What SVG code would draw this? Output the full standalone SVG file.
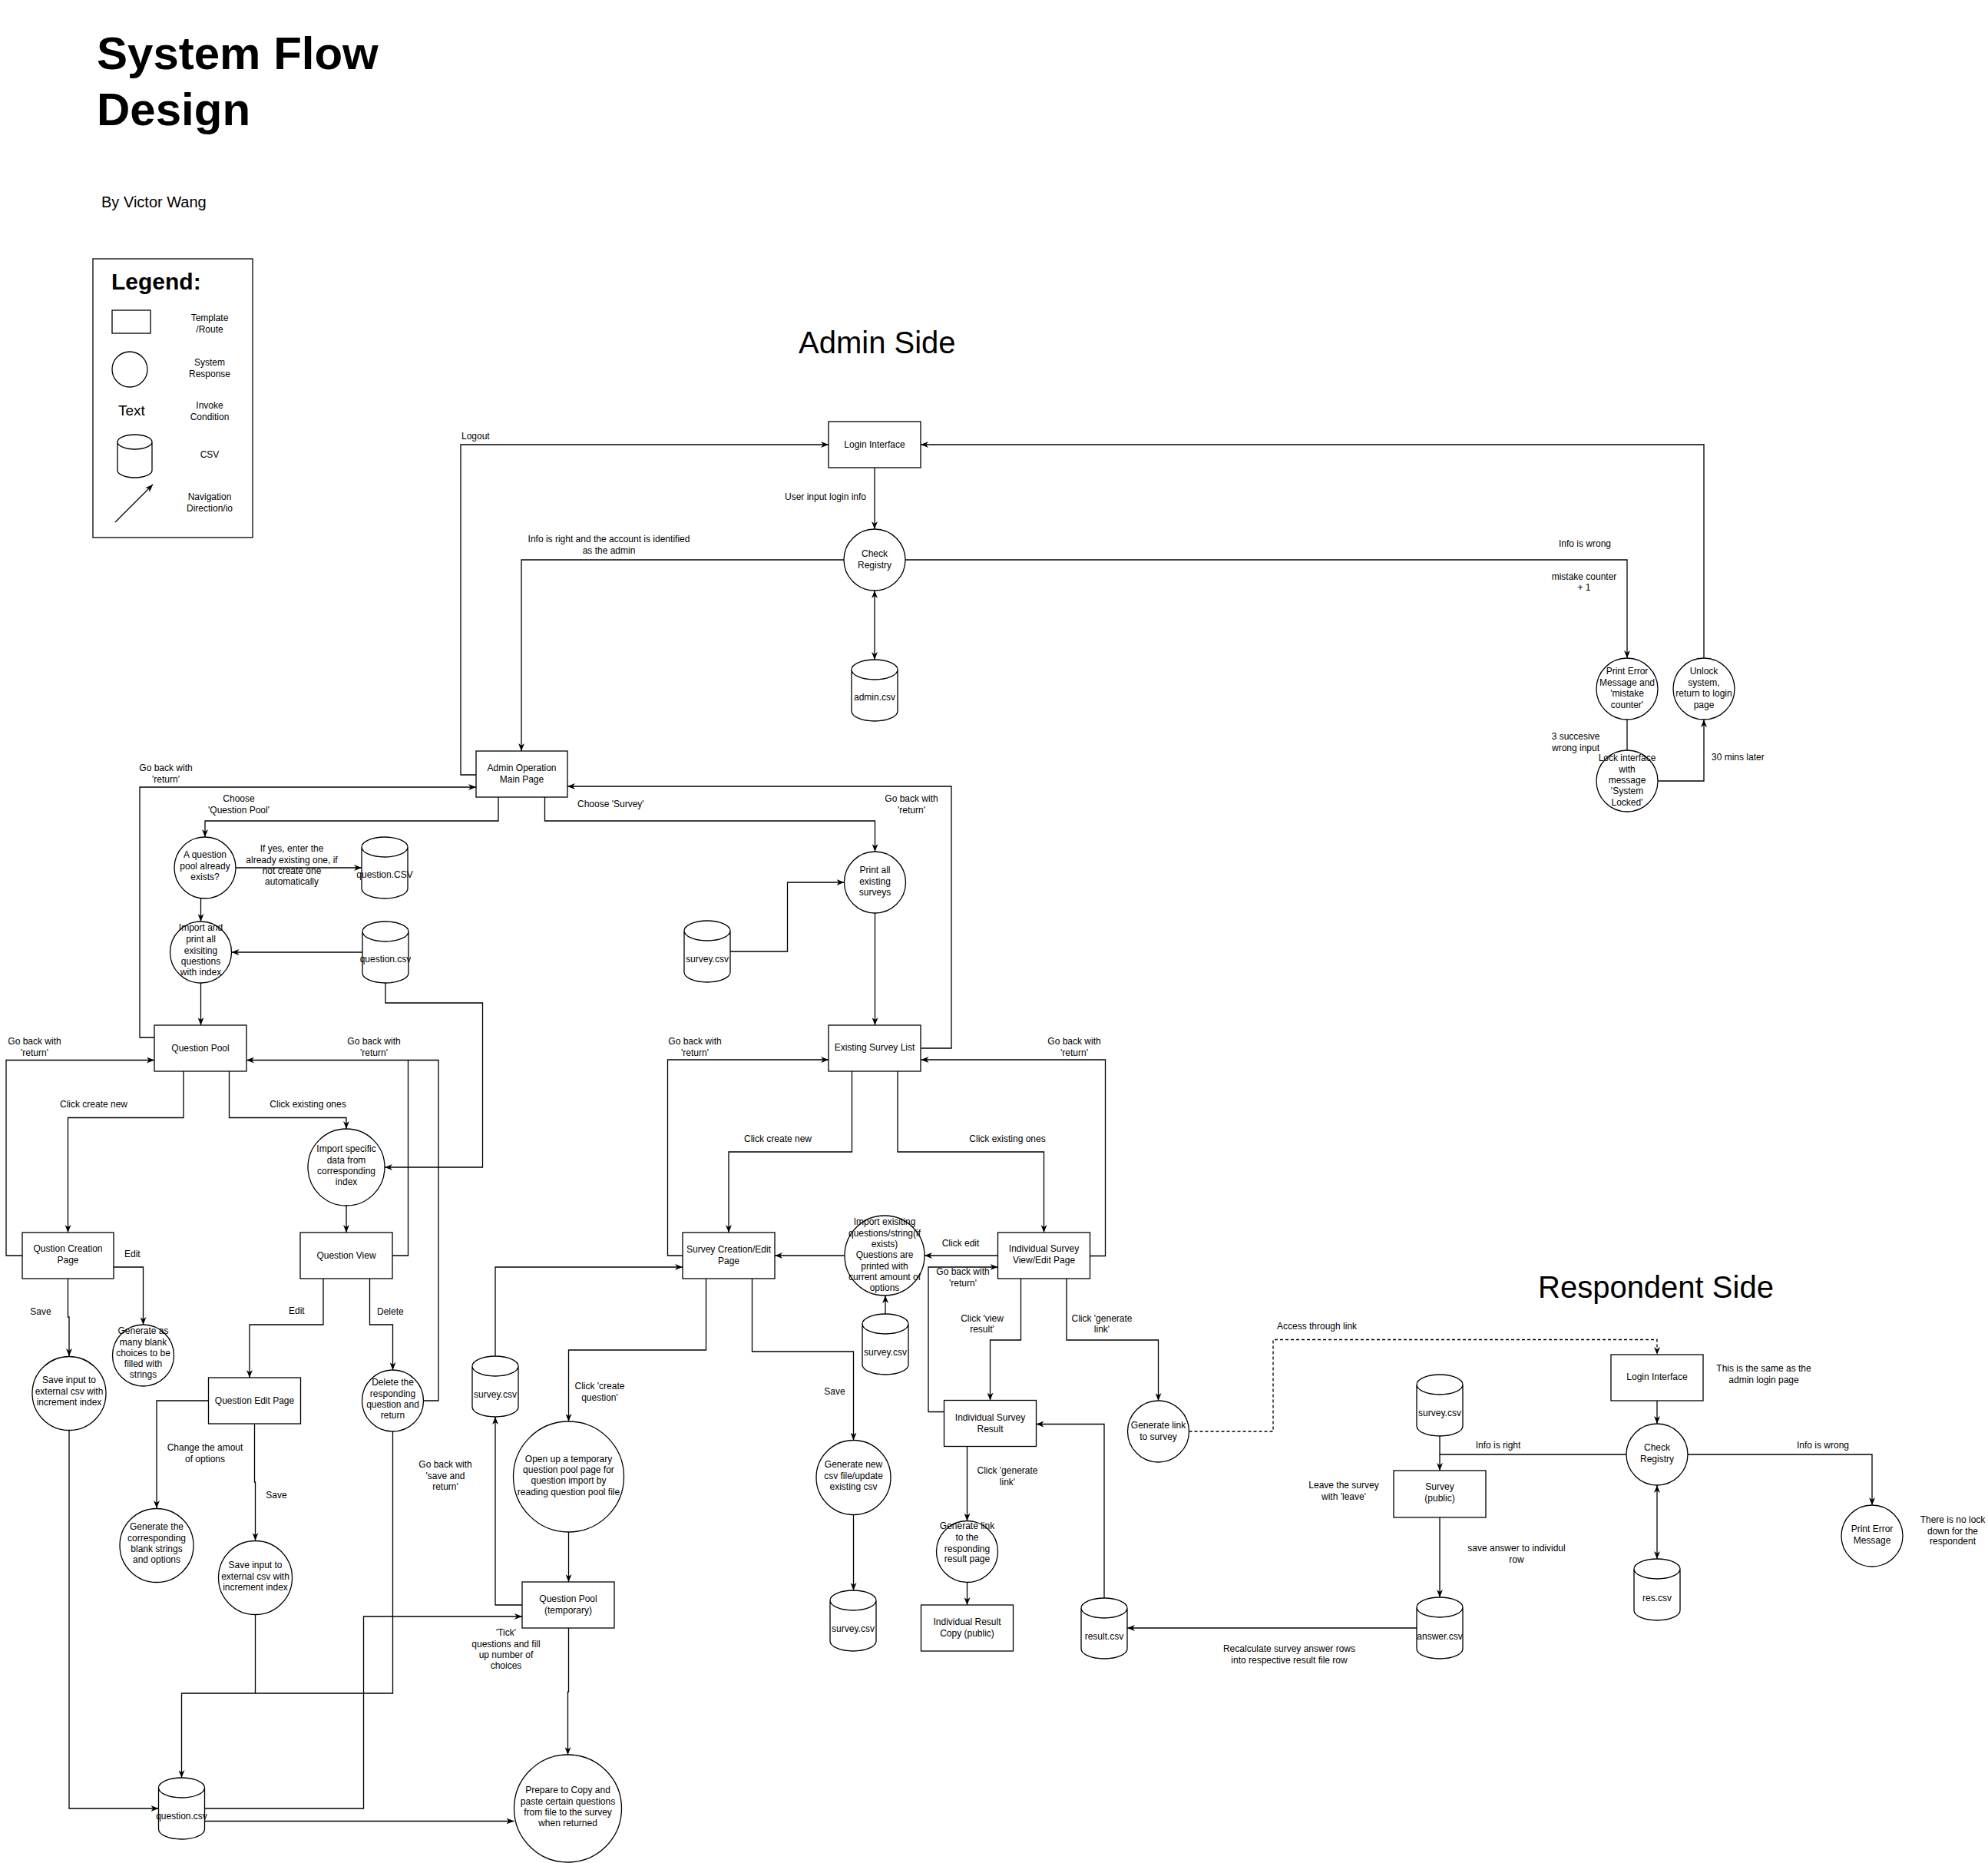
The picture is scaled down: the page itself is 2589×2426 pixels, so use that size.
<svg xmlns="http://www.w3.org/2000/svg" width="2589" height="2426" viewBox="0 0 2589 2426">
<style>
text{font-family:'Liberation Sans',Arial,Helvetica,sans-serif;font-size:12px;fill:#000;text-anchor:middle}
.l{text-anchor:start}
.sh{fill:#fff;stroke:#000;stroke-width:1.3}
.c{fill:none;stroke:#000;stroke-width:1.3}
.a{marker-end:url(#ah)}
.b{marker-end:url(#ah);marker-start:url(#ah)}
.d{stroke-dasharray:4 3}
</style>
<defs>
<marker id="ah" viewBox="0 0 10 8" refX="10" refY="4" markerWidth="10" markerHeight="8" markerUnits="userSpaceOnUse" orient="auto-start-reverse">
<path d="M0,0 L10,4 L0,8 L3,4 Z" fill="#000"/>
</marker>
</defs>
<rect width="2589" height="2426" fill="#fff"/>

<g id="title">
<text class="l" x="126" y="90" font-size="60" font-weight="bold" style="font-size:60px">System Flow</text>
<text class="l" x="126" y="163" style="font-size:60px;font-weight:bold">Design</text>
<text class="l" x="132" y="270" style="font-size:20px">By Victor Wang</text>
<text class="l" x="1040" y="460" style="font-size:40px">Admin Side</text>
<text class="l" x="2003" y="1690" style="font-size:40px">Respondent Side</text>
</g>

<g id="legend">
<rect class="sh" x="121" y="337" width="208" height="363"/>
<text class="l" x="145" y="377" style="font-size:30px;font-weight:bold">Legend:</text>
<rect class="sh" x="146" y="404" width="50" height="30"/>
<circle class="sh" cx="169" cy="481" r="23"/>
<text class="l" x="154" y="541" style="font-size:19px">Text</text>
<path class="sh" d="M153,575.5 A22.5,9.5 0 0 1 198,575.5 A22.5,9.5 0 0 1 153,575.5 Z M153,575.5 V612.5 A22.5,9.5 0 0 0 198,612.5 V575.5"/>
<line class="c a" x1="150" y1="680" x2="199" y2="631"/>
<text x="273" y="418">Template</text><text x="273" y="433">/Route</text>
<text x="273" y="476">System</text><text x="273" y="491">Response</text>
<text x="273" y="532">Invoke</text><text x="273" y="547">Condition</text>
<text x="273" y="596">CSV</text>
<text x="273" y="651">Navigation</text><text x="273" y="666">Direction/io</text>
</g>

<g id="connectors">
<path class="c a" d="M1139,609 V689"/>
<path class="c b" d="M1139,769 V859"/>
<path class="c a" d="M1099,729 H679 V978"/>
<path class="c a" d="M620,1009 H600 V579 H1079"/>
<path class="c a" d="M1179,729 H2119 V857"/>
<path class="c" d="M2119,937 V977"/>
<path class="c a" d="M2159,1017 H2219 V937"/>
<path class="c a" d="M2219,857 V579 H1199"/>
<path class="c a" d="M201,1351 H182 V1025 H620"/>
<path class="c a" d="M649,1038 V1069 H267 V1090"/>
<path class="c a" d="M307,1130 H471"/>
<path class="c a" d="M261.5,1169 V1200"/>
<path class="c a" d="M472,1240 H301.5"/>
<path class="c a" d="M261.5,1280 V1335"/>
<path class="c a" d="M502,1280 V1306 H628.5 V1520 H501"/>
<path class="c a" d="M239,1395 V1455.5 H88.5 V1605"/>
<path class="c a" d="M298.5,1395 V1455.5 H451 V1470"/>
<path class="c a" d="M29,1635 H8 V1380.5 H201"/>
<path class="c a" d="M451,1570 V1605"/>
<path class="c a" d="M551,1824 H571 V1380.5 H321"/>
<path class="c" d="M511,1635 H531.5 V1380.5"/>
<path class="c a" d="M148,1650 H186.5 V1725"/>
<path class="c a" d="M88.5,1665 V1715 H90 V1766"/>
<path class="c a" d="M421,1665 V1725 H325 V1794"/>
<path class="c a" d="M481.5,1665 V1725 H511.5 V1784"/>
<path class="c a" d="M271.5,1824 H204 V1964"/>
<path class="c a" d="M331.5,1854 V1930 H332.5 V2006"/>
<path class="c a" d="M90,1862.5 V2355 H206.5"/>
<path class="c" d="M332.5,2102.5 V2205"/>
<path class="c a" d="M511.5,1864 V2205 H236.5 V2315"/>
<path class="c a" d="M266.5,2355 H473.5 V2105 H680"/>
<path class="c a" d="M266.5,2371.5 H669.5"/>
<path class="c a" d="M740.5,2120 V2203 H739.5 V2285"/>
<path class="c a" d="M1199.5,1365 H1239 V1024 H739"/>
<path class="c a" d="M709.5,1038 V1069 H1139.5 V1109"/>
<path class="c a" d="M951,1239 H1025.5 V1149 H1099.5"/>
<path class="c a" d="M1139.5,1189 V1335"/>
<path class="c a" d="M1109.5,1395 V1500 H949 V1605"/>
<path class="c a" d="M1169,1395 V1500 H1359.5 V1605"/>
<path class="c a" d="M889,1635 H869.5 V1380 H1079"/>
<path class="c a" d="M1419.5,1635.5 H1439.5 V1380 H1199.5"/>
<path class="c a" d="M1100,1635 H1009"/>
<path class="c a" d="M1299.5,1635 H1204"/>
<path class="c a" d="M1153,1711 V1687"/>
<path class="c a" d="M1229.5,1838.5 H1209 V1650 H1299.5"/>
<path class="c a" d="M645,1766 V1650 H889"/>
<path class="c a" d="M680,2090 H645 V1845"/>
<path class="c a" d="M919.5,1665 V1758 H740.5 V1851"/>
<path class="c a" d="M740.5,1995 V2060"/>
<path class="c a" d="M979.5,1665 V1760 H1111.5 V1875.5"/>
<path class="c a" d="M1111.5,1972.5 V2071"/>
<path class="c a" d="M1329.5,1665 V1745 H1289.5 V1823.5"/>
<path class="c a" d="M1389,1665 V1745 H1508.5 V1824"/>
<path class="c a" d="M1438,2081 V1854.5 H1349.5"/>
<path class="c a" d="M1259.5,1883.5 V1980.5"/>
<path class="c a" d="M1259.5,2060.5 V2090"/>
<path class="c a d" d="M1548.5,1864 H1658 V1744.5 H2158 V1764"/>
<path class="c a" d="M1845,2120 H1468"/>
<path class="c a" d="M2158,1824 V1854"/>
<path class="c a" d="M2118,1894 H1875 V1915"/>
<path class="c" d="M1875,1870 V1894"/>
<path class="c a" d="M2198,1894 H2438 V1960"/>
<path class="c b" d="M2158,1934 V2030"/>
<path class="c a" d="M1875,1976 V2080"/>
</g>

<g id="edge-labels">
<text class="l" x="601" y="572">Logout</text>
<text x="1075" y="651">User input login info</text>
<text x="793" y="706">Info is right and the account is identified</text>
<text x="793" y="721">as the admin</text>
<text x="2064" y="712">Info is wrong</text>
<text x="2063" y="755">mistake counter</text>
<text x="2063" y="769">+ 1</text>
<text x="2052" y="963">3 succesive</text>
<text x="2052" y="978">wrong input</text>
<text class="l" x="2229" y="990">30 mins later</text>
<text x="216" y="1004">Go back with</text><text x="216" y="1019">'return'</text>
<text x="311" y="1044">Choose</text><text x="311" y="1059">'Question Pool'</text>
<text x="380" y="1109">If yes, enter the</text>
<text x="380" y="1124">already existing one, if</text>
<text x="380" y="1138">not create one</text>
<text x="380" y="1152">automatically</text>
<text x="45" y="1360">Go back with</text><text x="45" y="1375">'return'</text>
<text x="487" y="1360">Go back with</text><text x="487" y="1375">'return'</text>
<text x="122" y="1442">Click create new</text>
<text x="401" y="1442">Click existing ones</text>
<text class="l" x="162" y="1637">Edit</text>
<text x="53" y="1712">Save</text>
<text class="l" x="376" y="1711">Edit</text>
<text class="l" x="491" y="1712">Delete</text>
<text x="267" y="1889">Change the amout</text><text x="267" y="1904">of options</text>
<text x="360" y="1951">Save</text>
<text x="580" y="1911">Go back with</text><text x="580" y="1926">'save and</text><text x="580" y="1940">return'</text>
<text x="659" y="2130">'Tick'</text>
<text x="659" y="2145">questions and fill</text>
<text x="659" y="2159">up number of</text>
<text x="659" y="2173">choices</text>
<text class="l" x="752" y="1051">Choose 'Survey'</text>
<text x="1187" y="1044">Go back with</text><text x="1187" y="1059">'return'</text>
<text x="905" y="1360">Go back with</text><text x="905" y="1375">'return'</text>
<text x="1399" y="1360">Go back with</text><text x="1399" y="1375">'return'</text>
<text x="1013" y="1487">Click create new</text>
<text x="1312" y="1487">Click existing ones</text>
<text x="1251" y="1623">Click edit</text>
<text x="1254" y="1660">Go back with</text><text x="1254" y="1675">'return'</text>
<text x="781" y="1809">Click 'create</text><text x="781" y="1824">question'</text>
<text x="1087" y="1816">Save</text>
<text x="1279" y="1721">Click 'view</text><text x="1279" y="1735">result'</text>
<text x="1435" y="1721">Click 'generate</text><text x="1435" y="1735">link'</text>
<text x="1312" y="1919">Click 'generate</text><text x="1312" y="1934">link'</text>
<text class="l" x="1663" y="1731">Access through link</text>
<text x="2297" y="1786">This is the same as the</text><text x="2297" y="1801">admin login page</text>
<text x="1951" y="1886">Info is right</text>
<text x="2374" y="1886">Info is wrong</text>
<text x="1750" y="1938">Leave the survey</text><text x="1750" y="1953">with 'leave'</text>
<text x="1975" y="2020">save answer to individul</text><text x="1975" y="2035">row</text>
<text x="1679" y="2151">Recalculate survey answer rows</text>
<text x="1679" y="2166">into respective result file row</text>
<text x="2543" y="1983">There is no lock</text><text x="2543" y="1998">down for the</text><text x="2543" y="2011">respondent</text>
</g>

<g id="login-admin"><rect class="sh" x="1079" y="549" width="120" height="60"/><text x="1139" y="583">Login Interface</text></g>
<g id="check-admin"><circle class="sh" cx="1139" cy="729" r="40"/><text x="1139" y="725">Check</text><text x="1139" y="740">Registry</text></g>
<g id="admin-csv"><path class="sh" d="M1109,872 A30,13 0 0 1 1169,872 A30,13 0 0 1 1109,872 Z M1109,872 V926 A30,13 0 0 0 1169,926 V872"/><text x="1139" y="912">admin.csv</text></g>
<g id="admin-main"><rect class="sh" x="620" y="978" width="119" height="60"/><text x="679.5" y="1004">Admin Operation</text><text x="679.5" y="1019">Main Page</text></g>
<g id="print-error"><circle class="sh" cx="2119" cy="897" r="40"/><text x="2119" y="878">Print Error</text><text x="2119" y="893">Message and</text><text x="2119" y="907">'mistake</text><text x="2119" y="922">counter'</text></g>
<g id="unlock"><circle class="sh" cx="2219" cy="897" r="40"/><text x="2219" y="878">Unlock</text><text x="2219" y="893">system,</text><text x="2219" y="907">return to login</text><text x="2219" y="922">page</text></g>
<g id="lock"><circle class="sh" cx="2119" cy="1017" r="40"/><text x="2119" y="991">Lock interface</text><text x="2119" y="1006">with</text><text x="2119" y="1020">message</text><text x="2119" y="1034">'System</text><text x="2119" y="1049">Locked'</text></g>

<g id="qpool-exists"><circle class="sh" cx="267" cy="1130" r="40"/><text x="267" y="1117">A question</text><text x="267" y="1132">pool already</text><text x="267" y="1146">exists?</text></g>
<g id="question-csv-1"><path class="sh" d="M471,1103 A30,13 0 0 1 531,1103 A30,13 0 0 1 471,1103 Z M471,1103 V1157 A30,13 0 0 0 531,1157 V1103"/><text x="501" y="1143">question.CSV</text></g>
<g id="import-all"><circle class="sh" cx="261.5" cy="1240" r="40"/><text x="261.5" y="1212">Import and</text><text x="261.5" y="1227">print all</text><text x="261.5" y="1242">exisiting</text><text x="261.5" y="1256">questions</text><text x="261.5" y="1270">with index</text></g>
<g id="question-csv-2"><path class="sh" d="M472,1213 A30,13 0 0 1 532,1213 A30,13 0 0 1 472,1213 Z M472,1213 V1267 A30,13 0 0 0 532,1267 V1213"/><text x="502" y="1253">question.csv</text></g>
<g id="question-pool"><rect class="sh" x="201" y="1335" width="120" height="60"/><text x="261" y="1369">Question Pool</text></g>
<g id="import-specific"><circle class="sh" cx="451" cy="1520" r="50"/><text x="451" y="1500">Import specific</text><text x="451" y="1515">data from</text><text x="451" y="1529">corresponding</text><text x="451" y="1543">index</text></g>
<g id="question-creation"><rect class="sh" x="29" y="1605" width="119" height="60"/><text x="88.5" y="1630">Qustion Creation</text><text x="88.5" y="1645">Page</text></g>
<g id="question-view"><rect class="sh" x="391" y="1605" width="120" height="60"/><text x="451" y="1639">Question View</text></g>
<g id="gen-blank"><circle class="sh" cx="186.5" cy="1765" r="40"/><text x="186.5" y="1737">Generate as</text><text x="186.5" y="1752">many blank</text><text x="186.5" y="1766">choices to be</text><text x="186.5" y="1780">filled with</text><text x="186.5" y="1794">strings</text></g>
<g id="save-input-1"><circle class="sh" cx="90" cy="1814.5" r="48"/><text x="90" y="1801">Save input to</text><text x="90" y="1816">external csv with</text><text x="90" y="1830">increment index</text></g>
<g id="question-edit"><rect class="sh" x="271.5" y="1794" width="120" height="60"/><text x="331.5" y="1828">Question Edit Page</text></g>
<g id="delete-question"><circle class="sh" cx="511.5" cy="1824" r="40"/><text x="511.5" y="1804">Delete the</text><text x="511.5" y="1819">responding</text><text x="511.5" y="1833">question and</text><text x="511.5" y="1847">return</text></g>
<g id="gen-corresponding"><circle class="sh" cx="204" cy="2012.5" r="48"/><text x="204" y="1992">Generate the</text><text x="204" y="2007">corresponding</text><text x="204" y="2021">blank strings</text><text x="204" y="2035">and options</text></g>
<g id="save-input-2"><circle class="sh" cx="332.5" cy="2054.5" r="48"/><text x="332.5" y="2042">Save input to</text><text x="332.5" y="2057">external csv with</text><text x="332.5" y="2071">increment index</text></g>
<g id="question-csv-3"><path class="sh" d="M206.5,2328 A30,13 0 0 1 266.5,2328 A30,13 0 0 1 206.5,2328 Z M206.5,2328 V2382 A30,13 0 0 0 266.5,2382 V2328"/><text x="236.5" y="2369">question.csv</text></g>
<g id="qpool-temp"><rect class="sh" x="680" y="2060" width="120" height="60"/><text x="740" y="2086">Question Pool</text><text x="740" y="2101">(temporary)</text></g>
<g id="open-up"><circle class="sh" cx="740.5" cy="1923" r="72"/><text x="740.5" y="1904">Open up a temporary</text><text x="740.5" y="1918">question pool page for</text><text x="740.5" y="1932">question import by</text><text x="740.5" y="1947">reading question pool file</text></g>
<g id="prepare-copy"><circle class="sh" cx="739.5" cy="2355" r="70"/><text x="739.5" y="2335">Prepare to Copy and</text><text x="739.5" y="2350">paste certain questions</text><text x="739.5" y="2364">from file to the survey</text><text x="739.5" y="2378">when returned</text></g>

<g id="print-all-surveys"><circle class="sh" cx="1139.5" cy="1149" r="40"/><text x="1139.5" y="1137">Print all</text><text x="1139.5" y="1152">existing</text><text x="1139.5" y="1166">surveys</text></g>
<g id="survey-csv-1"><path class="sh" d="M891,1212 A30,13 0 0 1 951,1212 A30,13 0 0 1 891,1212 Z M891,1212 V1266 A30,13 0 0 0 951,1266 V1212"/><text x="921" y="1253">survey.csv</text></g>
<g id="existing-survey-list"><rect class="sh" x="1079" y="1335" width="120" height="60"/><text x="1139" y="1368">Existing Survey List</text></g>
<g id="survey-creation"><rect class="sh" x="889" y="1605" width="120" height="60"/><text x="949" y="1631">Survey Creation/Edit</text><text x="949" y="1646">Page</text></g>
<g id="import-existing"><circle class="sh" cx="1152" cy="1635" r="52"/><text x="1152" y="1595">Import exisiting</text><text x="1152" y="1610">questions/string(if</text><text x="1152" y="1624">exists)</text><text x="1152" y="1638">Questions are</text><text x="1152" y="1653">printed with</text><text x="1152" y="1667">current amount of</text><text x="1152" y="1681">options</text></g>
<g id="survey-csv-2"><path class="sh" d="M1123,1724 A30,13 0 0 1 1183,1724 A30,13 0 0 1 1123,1724 Z M1123,1724 V1777 A30,13 0 0 0 1183,1777 V1724"/><text x="1153" y="1765">survey.csv</text></g>
<g id="survey-view-edit"><rect class="sh" x="1299.5" y="1605" width="120" height="60"/><text x="1359.5" y="1630">Individual Survey</text><text x="1359.5" y="1645">View/Edit Page</text></g>
<g id="survey-csv-0"><path class="sh" d="M615,1779 A30,13 0 0 1 675,1779 A30,13 0 0 1 615,1779 Z M615,1779 V1832 A30,13 0 0 0 675,1832 V1779"/><text x="645" y="1820">survey.csv</text></g>
<g id="gen-new-csv"><circle class="sh" cx="1111.5" cy="1924" r="48.5"/><text x="1111.5" y="1911">Generate new</text><text x="1111.5" y="1926">csv file/update</text><text x="1111.5" y="1940">existing csv</text></g>
<g id="survey-csv-3"><path class="sh" d="M1081,2084 A30,13 0 0 1 1141,2084 A30,13 0 0 1 1081,2084 Z M1081,2084 V2137 A30,13 0 0 0 1141,2137 V2084"/><text x="1111" y="2125">survey.csv</text></g>
<g id="survey-result"><rect class="sh" x="1229.5" y="1823.5" width="120" height="60"/><text x="1289.5" y="1850">Individual Survey</text><text x="1289.5" y="1865">Result</text></g>
<g id="gen-link-survey"><circle class="sh" cx="1508.5" cy="1864" r="40"/><text x="1508.5" y="1860">Generate link</text><text x="1508.5" y="1875">to survey</text></g>
<g id="gen-link-result"><circle class="sh" cx="1259.5" cy="2020.5" r="40"/><text x="1259.5" y="1991">Generate link</text><text x="1259.5" y="2006">to the</text><text x="1259.5" y="2021">responding</text><text x="1259.5" y="2034">result page</text></g>
<g id="result-copy"><rect class="sh" x="1199.5" y="2090" width="120" height="60"/><text x="1259.5" y="2116">Individual Result</text><text x="1259.5" y="2131">Copy (public)</text></g>
<g id="result-csv"><path class="sh" d="M1408,2094 A30,13 0 0 1 1468,2094 A30,13 0 0 1 1408,2094 Z M1408,2094 V2147 A30,13 0 0 0 1468,2147 V2094"/><text x="1438" y="2135">result.csv</text></g>

<g id="login-respondent"><rect class="sh" x="2098" y="1764" width="120" height="60"/><text x="2158" y="1797">Login Interface</text></g>
<g id="check-respondent"><circle class="sh" cx="2158" cy="1894" r="40"/><text x="2158" y="1889">Check</text><text x="2158" y="1904">Registry</text></g>
<g id="survey-csv-r"><path class="sh" d="M1845,1803 A30,13 0 0 1 1905,1803 A30,13 0 0 1 1845,1803 Z M1845,1803 V1857 A30,13 0 0 0 1905,1857 V1803"/><text x="1875" y="1844">survey.csv</text></g>
<g id="survey-public"><rect class="sh" x="1815" y="1915" width="120" height="61"/><text x="1875" y="1940">Survey</text><text x="1875" y="1955">(public)</text></g>
<g id="answer-csv"><path class="sh" d="M1845,2093 A30,13 0 0 1 1905,2093 A30,13 0 0 1 1845,2093 Z M1845,2093 V2147 A30,13 0 0 0 1905,2147 V2093"/><text x="1875" y="2135">answer.csv</text></g>
<g id="print-error-r"><circle class="sh" cx="2438" cy="2000" r="40"/><text x="2438" y="1995">Print Error</text><text x="2438" y="2010">Message</text></g>
<g id="res-csv"><path class="sh" d="M2128,2043 A30,13 0 0 1 2188,2043 A30,13 0 0 1 2128,2043 Z M2128,2043 V2097 A30,13 0 0 0 2188,2097 V2043"/><text x="2158" y="2085">res.csv</text></g>
</svg>
